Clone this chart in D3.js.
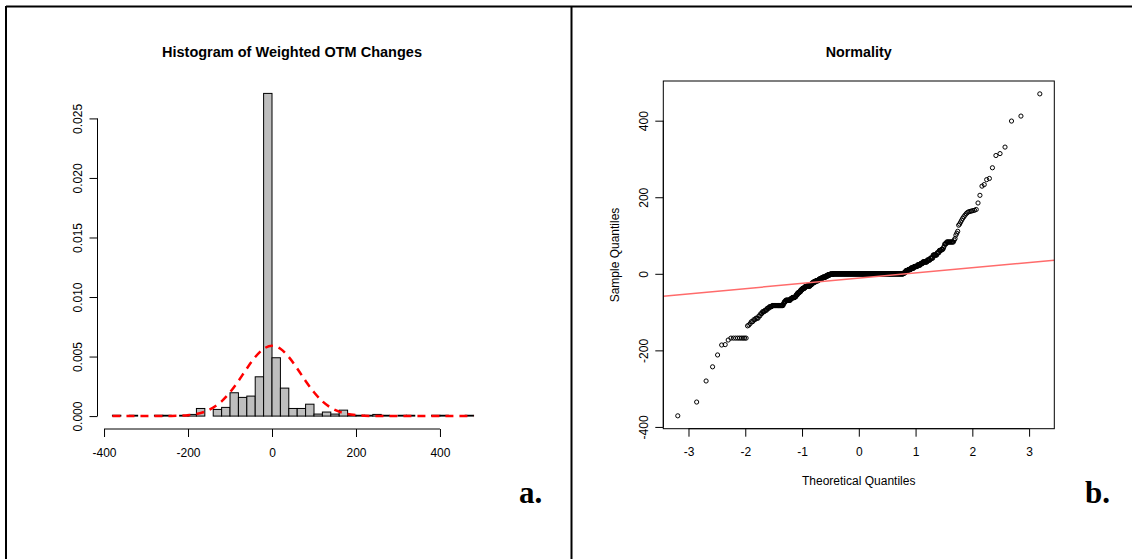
<!DOCTYPE html>
<html lang="en">
<head>
<meta charset="UTF-8">
<title>Weighted OTM Changes</title>
<script src="https://d3js.org/d3.v7.min.js"></script>
<style>
  body { margin: 0; background: #fff; }
  text { font-family: "Liberation Sans", Arial, sans-serif; fill: #000; }
</style>
</head>
<body>
<script>
var width = 1132, height = 559;

// histogram: bin edges and density of each bin
var histBreaks = [-380,-360,-340,-320,-300,-280,-260,-240,-220,-200,-180,-160,-140,-120,-100,-80,-60,-40,-20,0,
                  20,40,60,80,100,120,140,160,180,200,220,240,260,280,300,320,340,360,380,400,420,440,460,480];
var histDensity = [0.00007,0,0.00007,0,0,0.00007,0.00007,0,0.00007,0.00014,
                   0.00064,0,0.00056,0.00073,0.00196,0.00157,0.00168,0.0033,0.0271,0.0049,
                   0.00235,0.00064,0.00064,0.001,0.00017,0.00034,0.00017,0.0005,0.00007,0.00007,
                   0.00007,0.00014,0.00007,0,0.00007,0.00007,0,0,0.00007,0.00007,
                   0,0,0.00007];

// red dashed normal curve
var curveX = [-380,-360,-340,-320,-300,-280,-260,-240,-220,-200,-180,-160,-140,-120,-100,-80,-60,-40,-20,0,
              20,40,60,80,100,120,140,160,180,200,220,240,260,280,300,320,340,360,380,400,420,440,460,480];
var curveY = [0,0,0,0,0,0,0,0.00001,0.00003,0.00008,0.00018,0.00037,0.00071,0.00124,0.002,0.00295,0.004,0.00496,0.00565,0.0059,
              0.00565,0.00496,0.004,0.00295,0.002,0.00124,0.00071,0.00037,0.00018,0.00008,0.00003,0.00001,0,0,0,0,0,0,0,0,0,0,0,0];

// sorted sample for the Q-Q plot (value, how many times it occurs)
var sampleValues = [-371,-335,-280,-243,-212,-186,-185,-173,-168,
  -136,-134,-130,-125,-120,-116,-110,-104,-99,-95,-90,-86,-83,-78,-73,-69,-65,-62,-60,-55,-50,-47,-42,-38,
  -34,-32,-28,-24,-21,-18,-15,-12,-9,-6,-3,-1,
  0,
  1,4,8,11,15,19,23,27,31,36,41,49,55,61,64,68,72,78,83,
  88,92,101,106,111,127,130,135,140,145,149,153,157,160,162,163,164,165,166,168,
  185,205,229,233,246,249,277,309,314,331,399,412,470];
var sampleCounts = [1,1,1,1,1,1,1,1,9,
  1,1,1,2,2,3,2,2,3,3,3,4,20,2,3,11,4,7,3,4,5,4,5,7,
  6,12,6,6,8,10,6,10,12,9,10,14,
  321,
  3,5,8,9,10,10,9,6,11,7,6,8,4,4,3,1,1,3,10,
  1,1,1,1,1,1,1,1,1,1,1,1,1,1,1,1,1,1,1,1,
  1,1,1,1,1,1,1,1,1,1,1,1,1];

// reference line of the Q-Q plot
var qqIntercept = -11.5, qqSlope = 13.6;

var histXTicks = [-400,-200,0,200,400];
var histYTicks = [0,0.005,0.01,0.015,0.02,0.025];
var qqXTicks = [-3,-2,-1,0,1,2,3];
var qqYTicks = [-400,-200,0,200,400];

var svg = d3.select("body").append("svg")
  .attr("width", width).attr("height", height);

svg.append("rect").attr("width", width).attr("height", height).attr("fill", "#fff");

// frame lines round the two panels
svg.append("line").attr("x1", 6).attr("x2", width).attr("y1", 6.5).attr("y2", 6.5)
  .attr("stroke", "#000").attr("stroke-width", 2);
svg.append("line").attr("x1", 6).attr("x2", 6).attr("y1", 6).attr("y2", height)
  .attr("stroke", "#000").attr("stroke-width", 2);
svg.append("line").attr("x1", 571.5).attr("x2", 571.5).attr("y1", 6).attr("y2", height)
  .attr("stroke", "#000").attr("stroke-width", 2);

// R style: pad the data range by 4% each side
function pad(d) {
  var r = d[1] - d[0];
  return [d[0] - 0.04 * r, d[1] + 0.04 * r];
}

function qnorm(p) {
  var a = [-3.969683028665376e+01, 2.209460984245205e+02, -2.759285104469687e+02, 1.383577518672690e+02, -3.066479806614716e+01, 2.506628277459239e+00];
  var b = [-5.447609879822406e+01, 1.615858368580409e+02, -1.556989798598866e+02, 6.680131188771972e+01, -1.328068155288572e+01];
  var c = [-7.784894002430293e-03, -3.223964580411365e-01, -2.400758277161838e+00, -2.549732539343734e+00, 4.374664141464968e+00, 2.938163982698783e+00];
  var d = [7.784695709041462e-03, 3.224671290700398e-01, 2.445134137142996e+00, 3.754408661907416e+00];
  var q, r;
  if (p < 0.02425) {
    q = Math.sqrt(-2 * Math.log(p));
    return (((((c[0]*q+c[1])*q+c[2])*q+c[3])*q+c[4])*q+c[5]) / ((((d[0]*q+d[1])*q+d[2])*q+d[3])*q+1);
  }
  if (p > 1 - 0.02425) {
    q = Math.sqrt(-2 * Math.log(1 - p));
    return -(((((c[0]*q+c[1])*q+c[2])*q+c[3])*q+c[4])*q+c[5]) / ((((d[0]*q+d[1])*q+d[2])*q+d[3])*q+1);
  }
  q = p - 0.5; r = q * q;
  return (((((a[0]*r+a[1])*r+a[2])*r+a[3])*r+a[4])*r+a[5])*q / (((((b[0]*r+b[1])*r+b[2])*r+b[3])*r+b[4])*r+1);
}

// axis with the line only between first and last tick, like base R
function rAxis(g, axis, scale, ticks, horizontal) {
  g.call(axis.tickValues(ticks).tickSizeOuter(0).tickSize(8));
  var a = scale(ticks[0]), b = scale(ticks[ticks.length - 1]);
  g.select(".domain").attr("d", horizontal ? "M" + a + ",0H" + b : "M0," + a + "V" + b);
  g.selectAll("line, path").attr("stroke", "#000");
  g.selectAll("text").style("font-size", "12px").attr("fill", "#000");
}

var plain = function (d) { return String(d); };

// ---------- panel a: histogram ----------
var xH = d3.scaleLinear().domain(pad([histBreaks[0], histBreaks[histBreaks.length - 1]])).range([98, 488]);
var yH = d3.scaleLinear().domain(pad([0, d3.max(histDensity)])).range([429, 80.5]);

var bins = histDensity.map(function (v, i) { return { x0: histBreaks[i], x1: histBreaks[i + 1], d: v }; });

svg.append("g").selectAll("rect").data(bins).enter().append("rect")
  .attr("x", function (d) { return xH(d.x0); })
  .attr("width", function (d) { return xH(d.x1) - xH(d.x0); })
  .attr("y", function (d) { return yH(d.d); })
  .attr("height", function (d) { return yH(0) - yH(d.d); })
  .attr("fill", "#bebebe").attr("stroke", "#000").attr("stroke-width", 1);

svg.append("path")
  .datum(curveX.map(function (x, i) { return [x, curveY[i]]; }))
  .attr("d", d3.line().x(function (d) { return xH(d[0]); }).y(function (d) { return yH(d[1]); }).curve(d3.curveMonotoneX))
  .attr("fill", "none").attr("stroke", "#ff0000").attr("stroke-width", 2.5).attr("stroke-dasharray", "8,6");

var gxH = svg.append("g").attr("transform", "translate(0,429)");
rAxis(gxH, d3.axisBottom(xH).tickFormat(plain), xH, histXTicks, true);
gxH.selectAll("text").attr("y", 19).attr("dy", "0.71em");

var gyH = svg.append("g").attr("transform", "translate(97.5,0)");
rAxis(gyH, d3.axisLeft(yH).tickFormat(d3.format(".3f")), yH, histYTicks, false);
gyH.selectAll("text").attr("transform", "rotate(-90)").attr("x", 0).attr("y", -16)
  .attr("dy", 0).attr("text-anchor", "middle");

svg.append("text").attr("x", 292).attr("y", 57).attr("text-anchor", "middle")
  .style("font-size", "14.5px").style("font-weight", "bold").text("Histogram of Weighted OTM Changes");

// ---------- panel b: normal Q-Q plot ----------
var sample = [];
sampleValues.forEach(function (v, i) { for (var k = 0; k < sampleCounts[i]; k++) sample.push(v); });
var n = sample.length;
var qq = sample.map(function (v, i) { return [qnorm((i + 0.5) / n), v]; });

var xQ = d3.scaleLinear().domain(pad(d3.extent(qq, function (d) { return d[0]; }))).range([663.3, 1054.3]);
var yQ = d3.scaleLinear().domain(pad(d3.extent(sample))).range([428.7, 81]);

svg.append("clipPath").attr("id", "qqclip").append("rect")
  .attr("x", 663.3).attr("y", 81).attr("width", 1054.3 - 663.3).attr("height", 428.7 - 81);

svg.append("g").selectAll("circle").data(qq).enter().append("circle")
  .attr("cx", function (d) { return xQ(d[0]); })
  .attr("cy", function (d) { return yQ(d[1]); })
  .attr("r", 2.1).attr("fill", "none").attr("stroke", "#000").attr("stroke-width", 1);

var xd = xQ.domain();
svg.append("line").attr("clip-path", "url(#qqclip)")
  .attr("x1", xQ(xd[0])).attr("y1", yQ(qqIntercept + qqSlope * xd[0]))
  .attr("x2", xQ(xd[1])).attr("y2", yQ(qqIntercept + qqSlope * xd[1]))
  .attr("stroke", "#ff6b6b").attr("stroke-width", 1.5);

svg.append("rect").attr("x", 663.3).attr("y", 81).attr("width", 1054.3 - 663.3).attr("height", 428.7 - 81)
  .attr("fill", "none").attr("stroke", "#000").attr("stroke-width", 1);

var gxQ = svg.append("g").attr("transform", "translate(0,428.7)");
rAxis(gxQ, d3.axisBottom(xQ).tickFormat(plain), xQ, qqXTicks, true);
gxQ.selectAll("text").attr("y", 19).attr("dy", "0.71em");

var gyQ = svg.append("g").attr("transform", "translate(663.3,0)");
rAxis(gyQ, d3.axisLeft(yQ).tickFormat(plain), yQ, qqYTicks, false);
gyQ.selectAll("text").attr("transform", "rotate(-90)").attr("x", 0).attr("y", -15.5)
  .attr("dy", 0).attr("text-anchor", "middle");

svg.append("text").attr("x", 858.7).attr("y", 57).attr("text-anchor", "middle")
  .style("font-size", "14.3px").style("font-weight", "bold").text("Normality");

svg.append("text").attr("x", 858.7).attr("y", 485).attr("text-anchor", "middle")
  .style("font-size", "12px").text("Theoretical Quantiles");

svg.append("text").attr("transform", "translate(619,255) rotate(-90)").attr("text-anchor", "middle")
  .style("font-size", "12px").text("Sample Quantiles");

// panel letters
svg.append("text").attr("x", 519).attr("y", 503)
  .style("font-family", "'Liberation Serif', 'Times New Roman', serif").style("font-weight", "bold")
  .style("font-size", "31px").text("a.");
svg.append("text").attr("x", 1085).attr("y", 503)
  .style("font-family", "'Liberation Serif', 'Times New Roman', serif").style("font-weight", "bold")
  .style("font-size", "31px").text("b.");
</script>
</body>
</html>
